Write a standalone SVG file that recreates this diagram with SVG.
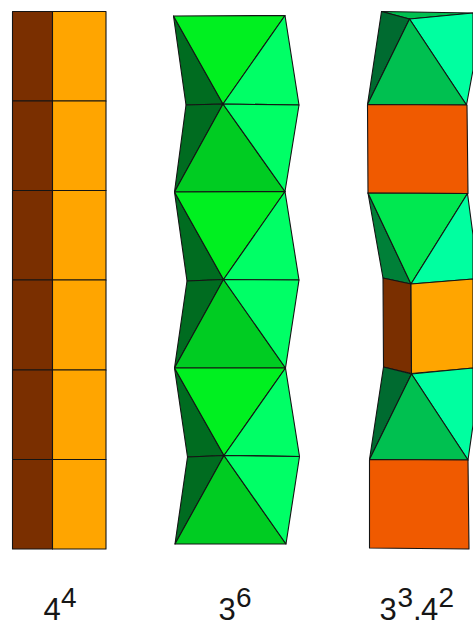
<svg xmlns="http://www.w3.org/2000/svg" width="473" height="621" viewBox="0 0 473 621">
<style>
polygon{stroke:#141414;stroke-width:1.1;stroke-linejoin:round}
text{font-family:"Liberation Sans",Arial,sans-serif;fill:#161616}
.b{font-size:31px}.s{font-size:28px}
.brown{fill:#7a2f00}.amber{fill:#ffa500}.red{fill:#f05a00}
.top{fill:#00f020}.rt{fill:#00ff66}.dk{fill:#006c20}.low{fill:#00cc22}
.t2{fill:#00c050}.r2{fill:#00ffa0}.d2{fill:#006b30}.t3{fill:#00e850}.d3{fill:#008038}
</style>
<rect width="473" height="621" fill="#fff"/>
<g id="column-4-4">
<polygon class="brown" points="12.5,11.5 52.5,11.5 52.5,101 12.5,101"/><polygon class="amber" points="52.5,11.5 106,11.5 106,101 52.5,101"/>
<polygon class="brown" points="12.5,101 52.5,101 52.5,190.5 12.5,190.5"/><polygon class="amber" points="52.5,101 106,101 106,190.5 52.5,190.5"/>
<polygon class="brown" points="12.5,190.5 52.5,190.5 52.5,280 12.5,280"/><polygon class="amber" points="52.5,190.5 106,190.5 106,280 52.5,280"/>
<polygon class="brown" points="12.5,280 52.5,280 52.5,370 12.5,370"/><polygon class="amber" points="52.5,280 106,280 106,370 52.5,370"/>
<polygon class="brown" points="12.5,370 52.5,370 52.5,459.5 12.5,459.5"/><polygon class="amber" points="52.5,370 106,370 106,459.5 52.5,459.5"/>
<polygon class="brown" points="12.5,459.5 52.5,459.5 52.5,549 12.5,549"/><polygon class="amber" points="52.5,459.5 106,459.5 106,549 52.5,549"/>
</g>
<g id="column-3-6">
<polygon class="dk" points="173.5,16 223,104 186,105"/><polygon class="top" points="173.5,16 285,15.5 223,104"/><polygon class="rt" points="285,15.5 299,105 223,104"/>
<polygon class="dk" points="186,105 223,104 174.5,192"/><polygon class="low" points="223,104 285,191.5 174.5,192"/><polygon class="rt" points="223,104 299,105 285,191.5"/>
<polygon class="dk" points="174.5,192 223.5,279.5 187,281"/><polygon class="top" points="174.5,192 285,191.5 223.5,279.5"/><polygon class="rt" points="285,191.5 299,280 223.5,279.5"/>
<polygon class="dk" points="187,281 223.5,279.5 174.5,368"/><polygon class="low" points="223.5,279.5 285.5,368 174.5,368"/><polygon class="rt" points="223.5,279.5 299,280 285.5,368"/>
<polygon class="dk" points="174.5,368 224,455.5 187.5,457"/><polygon class="top" points="174.5,368 285.5,368 224,455.5"/><polygon class="rt" points="285.5,368 299.5,456.5 224,455.5"/>
<polygon class="dk" points="187.5,457 224,455.5 175,544"/><polygon class="low" points="224,455.5 286,544 175,544"/><polygon class="rt" points="224,455.5 299.5,456.5 286,544"/>
</g>
<g id="column-3-3-4-2">
<polygon class="t2" points="381.5,11.5 473,13 409.5,19"/>
<polygon class="d2" points="381.5,11.5 409.5,19 367.5,104.5"/>
<polygon class="r2" points="409.5,19 473,13 473,70 466.5,105"/>
<polygon class="t2" points="409.5,19 466.5,105 367.5,104.5"/>
<polygon class="red" points="367.5,104.5 467,105 468,193.5 368,193"/>
<polygon class="d3" points="368,193 411,284 383,278"/>
<polygon class="t3" points="368,193 467.5,193.5 411,284"/>
<polygon class="r2" points="467.5,193.5 473,235 473,279 411,284"/>
<polygon class="brown" points="383,278 411,284 411.5,373.5 383.5,367"/>
<polygon class="amber" points="411,284 473,279 473,368 411.5,373.5"/>
<polygon class="d2" points="383.5,367 411.5,374 369.5,459.5"/>
<polygon class="r2" points="411.5,374 473,368 473,425 468,460"/>
<polygon class="t2" points="411.5,374 468,460 369.5,459.5"/>
<polygon class="red" points="369.5,459.5 468,460 469,549 369.5,548"/>
</g>
<g id="labels">
<text class="b" x="43.5" y="619.5">4</text><text class="s" x="61" y="606.5">4</text>
<text class="b" x="218.5" y="620">3</text><text class="s" x="236" y="607">6</text>
<text class="b" x="379.5" y="620">3</text><text class="s" x="397.5" y="607">3</text><text class="b" x="413" y="620">.</text><text class="b" x="421" y="619.5">4</text><text class="s" x="438.5" y="606.5">2</text>
</g>
</svg>
